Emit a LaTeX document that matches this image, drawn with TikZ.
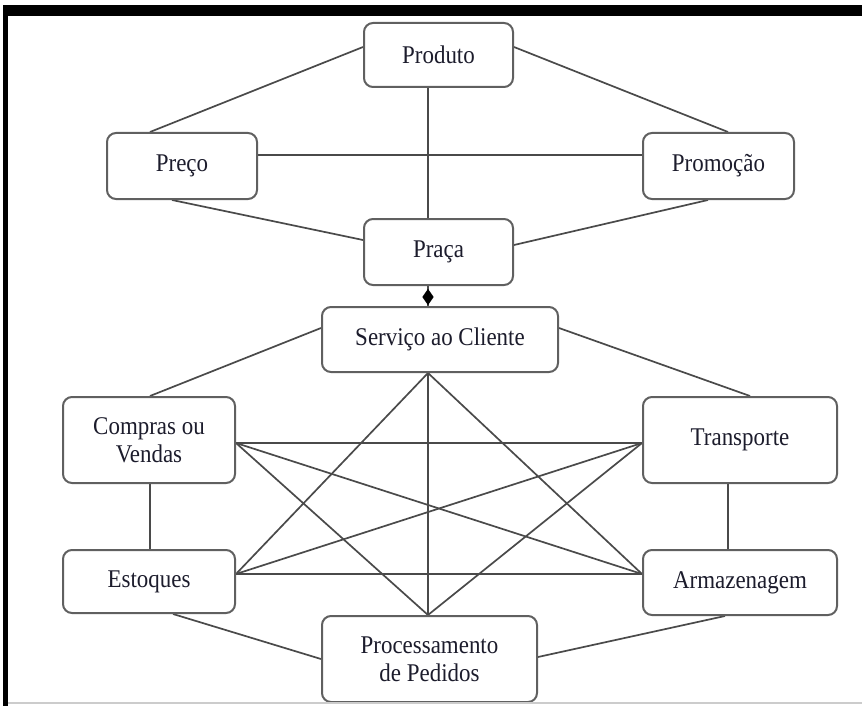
\documentclass[tikz,border=0pt]{standalone}
\usepackage{fontspec}
\setmainfont{Liberation Serif}[FakeStretch=0.9]
\usetikzlibrary{shapes.geometric,backgrounds}
\definecolor{txt}{HTML}{1C1C2C}
\definecolor{boxline}{HTML}{606060}
\definecolor{conn}{HTML}{4A4A4A}
\begin{document}
\begin{tikzpicture}[x=1pt,y=-1pt,
  box/.style={draw=boxline, line width=2pt, rounded corners=9pt, fill=white,
    inner sep=0pt, align=center, text=txt,
    font=\fontsize{25.5}{28}\selectfont},
  link/.style={draw=conn, line width=1.7pt},
  dia/.style={diamond, fill=black, draw=none, inner sep=0pt,
    minimum width=12pt, minimum height=17pt}]
\useasboundingbox (0,0) rectangle (862,706);
% boxes
\node[box, minimum width=149pt, minimum height=64pt] (prod) at (438.5,55) {Produto};
\node[box, minimum width=150pt, minimum height=66pt] (prec) at (182,166) {Preço};
\node[box, minimum width=151pt, minimum height=66pt] (prom) at (718.5,166) {Promoção};
\node[box, minimum width=149pt, minimum height=66pt] (praca) at (438.5,252) {Praça};
\node[box, minimum width=236pt, minimum height=65pt] (serv) at (440,339.5) {Serviço ao Cliente};
\node[box, minimum width=172pt, minimum height=86pt] (comp) at (149,440) {Compras ou\\Vendas};
\node[box, minimum width=194pt, minimum height=86pt] (trans) at (740,440) {Transporte};
\node[box, minimum width=172pt, minimum height=63pt] (est) at (149,581.5) {Estoques};
\node[box, minimum width=194pt, minimum height=65pt] (arm) at (740,582.5) {Armazenagem};
\node[box, minimum width=215pt, minimum height=86pt] (proc) at (429.5,659) {Processamento\\de Pedidos};
% frame
\fill[black] (3,5) rectangle (862,16);
\fill[black] (3,5) rectangle (8,706);
\draw[line width=2pt, black!20] (8,703) -- (862,703);
\begin{pgfonlayer}{background}
\fill[white] (0,0) rectangle (862,706);
% upper group
\draw[link] ([yshift=8pt]prod.west) -- ([xshift=-32pt]prec.north);
\draw[link] ([yshift=8pt]prod.east) -- ([xshift=9.5pt]prom.north);
\draw[link] ([xshift=-10.5pt]prod.south) -- ([xshift=-10.5pt]praca.north);
\draw[link] ([yshift=11pt]prec.east) -- ([yshift=11pt]prom.west);
\draw[link] ([xshift=-10pt]prec.south) -- ([yshift=12pt]praca.west);
\draw[link] ([xshift=-10.5pt]prom.south) -- ([yshift=7pt]praca.east);
\draw[link] ([xshift=-10.5pt]praca.south) -- ([xshift=-12pt]serv.north)
  node[dia, pos=0.55] (dmd) {};
% lower group: outer ring
\draw[link] ([yshift=11.5pt]serv.west) -- ([xshift=1pt]comp.north);
\draw[link] ([yshift=11.5pt]serv.east) -- ([xshift=10pt]trans.north);
\draw[link] ([xshift=1pt]comp.south) -- ([xshift=1pt]est.north);
\draw[link] ([xshift=-12pt]trans.south) -- ([xshift=-12pt]arm.north);
\draw[link] ([xshift=24pt]est.south) -- (proc.west);
\draw[link] ([xshift=-15pt]arm.south) -- ([yshift=2pt]proc.east);
% lower group: inner connections
\draw[link] ([xshift=-12pt]serv.south) -- ([xshift=-1.5pt]proc.north);
\draw[link] ([xshift=-12pt]serv.south) -- ([yshift=7.5pt]est.east);
\draw[link] ([xshift=-12pt]serv.south) -- ([yshift=8.5pt]arm.west);
\draw[link] ([yshift=-3pt]comp.east) -- ([yshift=-3pt]trans.west);
\draw[link] ([yshift=-3pt]comp.east) -- ([yshift=8.5pt]arm.west);
\draw[link] ([yshift=-3pt]comp.east) -- ([xshift=-1.5pt]proc.north);
\draw[link] ([yshift=7.5pt]est.east) -- ([yshift=-3pt]trans.west);
\draw[link] ([yshift=7.5pt]est.east) -- ([yshift=8.5pt]arm.west);
\draw[link] ([yshift=-3pt]trans.west) -- ([xshift=-1.5pt]proc.north);
\end{pgfonlayer}
\end{tikzpicture}
\end{document}
